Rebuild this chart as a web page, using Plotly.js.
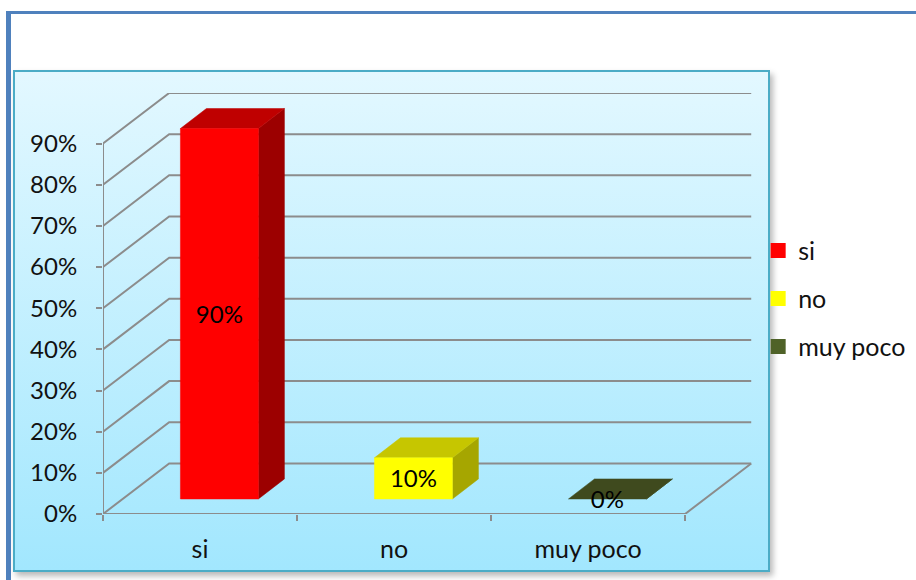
<!DOCTYPE html>
<html><head><meta charset="utf-8">
<script src="https://cdn.plot.ly/plotly-3.0.1.min.js"></script>
<style>
html,body{margin:0;padding:0;background:#fff;width:916px;height:580px;overflow:hidden}
#frame{position:absolute;left:6px;top:11px;width:910px;height:569px;border-top:3px solid #4f81bd;border-left:5px solid #4f81bd;box-sizing:border-box}
#panel{position:absolute;left:13px;top:70px;width:757px;height:502px;box-sizing:border-box;border:2px solid #4bacc6;background:linear-gradient(#e3f8ff,#a2e7fe);box-shadow:3px 4px 6px rgba(0,0,0,.28)}
#chart{position:absolute;left:0;top:0;width:916px;height:580px}
</style></head><body>
<div id="frame"></div><div id="panel"></div><div id="chart"></div>
<script>
const categories = ['si', 'no', 'muy poco'];
const values = [90, 10, 0];
const valueLabels = ['90%', '10%', '0%'];
const yTicks = [0, 10, 20, 30, 40, 50, 60, 70, 80, 90];
const yTickLabels = ['0%', '10%', '20%', '30%', '40%', '50%', '60%', '70%', '80%', '90%'];
const frontColors = ['#ff0000', '#ffff00', '#3f4a1e'];
const topColors = ['#bf0000', '#c6c600', '#3f4a1e'];
const sideColors = ['#9c0000', '#a6a600', '#3f4a1e'];
const legendColors = ['#ff0000', '#ffff00', '#4f6228'];

// oblique projection, in axis units
const wallDx = 0.341, wallDy = 12.29;    // floor depth
const barDx = 0.134, barDy = 4.87;       // bar depth
const barShiftX = 0.1, barShiftY = 3.65; // bar set back from front edge
const barW = 0.402, nCat = categories.length, yMax = yTicks[yTicks.length - 1];
const labelDrop = 0.7;                   // optical centring of value labels
const gridColor = '#8c8c8c';

const traces = [];
// gridlines: side wall + back wall
const gx = [], gy = [];
yTicks.forEach(v => { gx.push(0, wallDx, nCat + wallDx, null); gy.push(v, v + wallDy, v + wallDy, null); });
// y axis, floor front edge and right edge
gx.push(0, 0, null, 0, nCat, nCat + wallDx);
gy.push(0, yMax, null, 0, 0, wallDy);
traces.push({type:'scatter', mode:'lines', x:gx, y:gy, cliponaxis:false, line:{color:gridColor, width:2}, showlegend:false, hoverinfo:'skip'});

function poly(x, y, color) {
  traces.push({type:'scatter', mode:'lines', x, y, fill:'toself', fillcolor:color, line:{color, width:0.5}, showlegend:false, hoverinfo:'skip'});
}
values.forEach((v, i) => {
  const l = i + 0.5 + barShiftX - barW / 2, r = l + barW, b = barShiftY, t = b + v;
  poly([r, r + barDx, r + barDx, r, r], [b, b + barDy, t + barDy, t, b], sideColors[i]);
  poly([l, r, r + barDx, l + barDx, l], [t, t, t + barDy, t + barDy, t], topColors[i]);
  if (v > 0) poly([l, r, r, l, l], [b, b, t, t, b], frontColors[i]);
});
// value labels
traces.push({type:'scatter', mode:'text',
  x: values.map((v, i) => i + 0.5 + barShiftX),
  y: values.map(v => barShiftY + v / 2 - labelDrop),
  text: valueLabels, textposition:'middle center',
  textfont:{family:'Lato, sans-serif', size:24, color:'#000'},
  cliponaxis:false, showlegend:false, hoverinfo:'skip'});
// legend keys
categories.forEach((c, i) => traces.push({type:'scatter', mode:'markers', x:[null], y:[null], name:c,
  legendgroup:c, marker:{symbol:'square', size:15, color:legendColors[i]}}));

const font = {family:'Lato, sans-serif', size:24, color:'#111'};
const wideFont = {family:'Lato, sans-serif', size:25, color:'#111'};
const layout = {
  width:916, height:580,
  margin:{l:103, r:164, t:93, b:66, pad:0, autoexpand:false},
  paper_bgcolor:'rgba(0,0,0,0)', plot_bgcolor:'rgba(0,0,0,0)',
  font,
  showlegend:true,
  legend:{x:1.0095, xanchor:'left', y:0.68, yanchor:'top', traceorder:'grouped', tracegroupgap:12.5,
          font:wideFont, bgcolor:'rgba(0,0,0,0)', itemclick:false},
  xaxis:{range:[0, nCat + 0.345], showgrid:false, zeroline:false, showline:false,
         tickmode:'array', tickvals:categories.map((c, i) => i + 0.5), ticktext:categories,
         ticks:'', ticklabelstandoff:18, tickfont:wideFont,
         minor:{tickmode:'array', tickvals:[0, 1, 2, 3], ticks:'outside', ticklen:6, tickwidth:2, tickcolor:gridColor, showgrid:false}},
  yaxis:{range:[0, yMax + wallDy], showgrid:false, zeroline:false, showline:false,
         tickmode:'array', tickvals:yTicks, ticktext:yTickLabels,
         ticks:'outside', ticklen:6, tickwidth:2, tickcolor:gridColor, ticklabelstandoff:14, tickfont:font}
};
Plotly.newPlot('chart', traces, layout, {displayModeBar:false, responsive:false});
</script></body></html>
